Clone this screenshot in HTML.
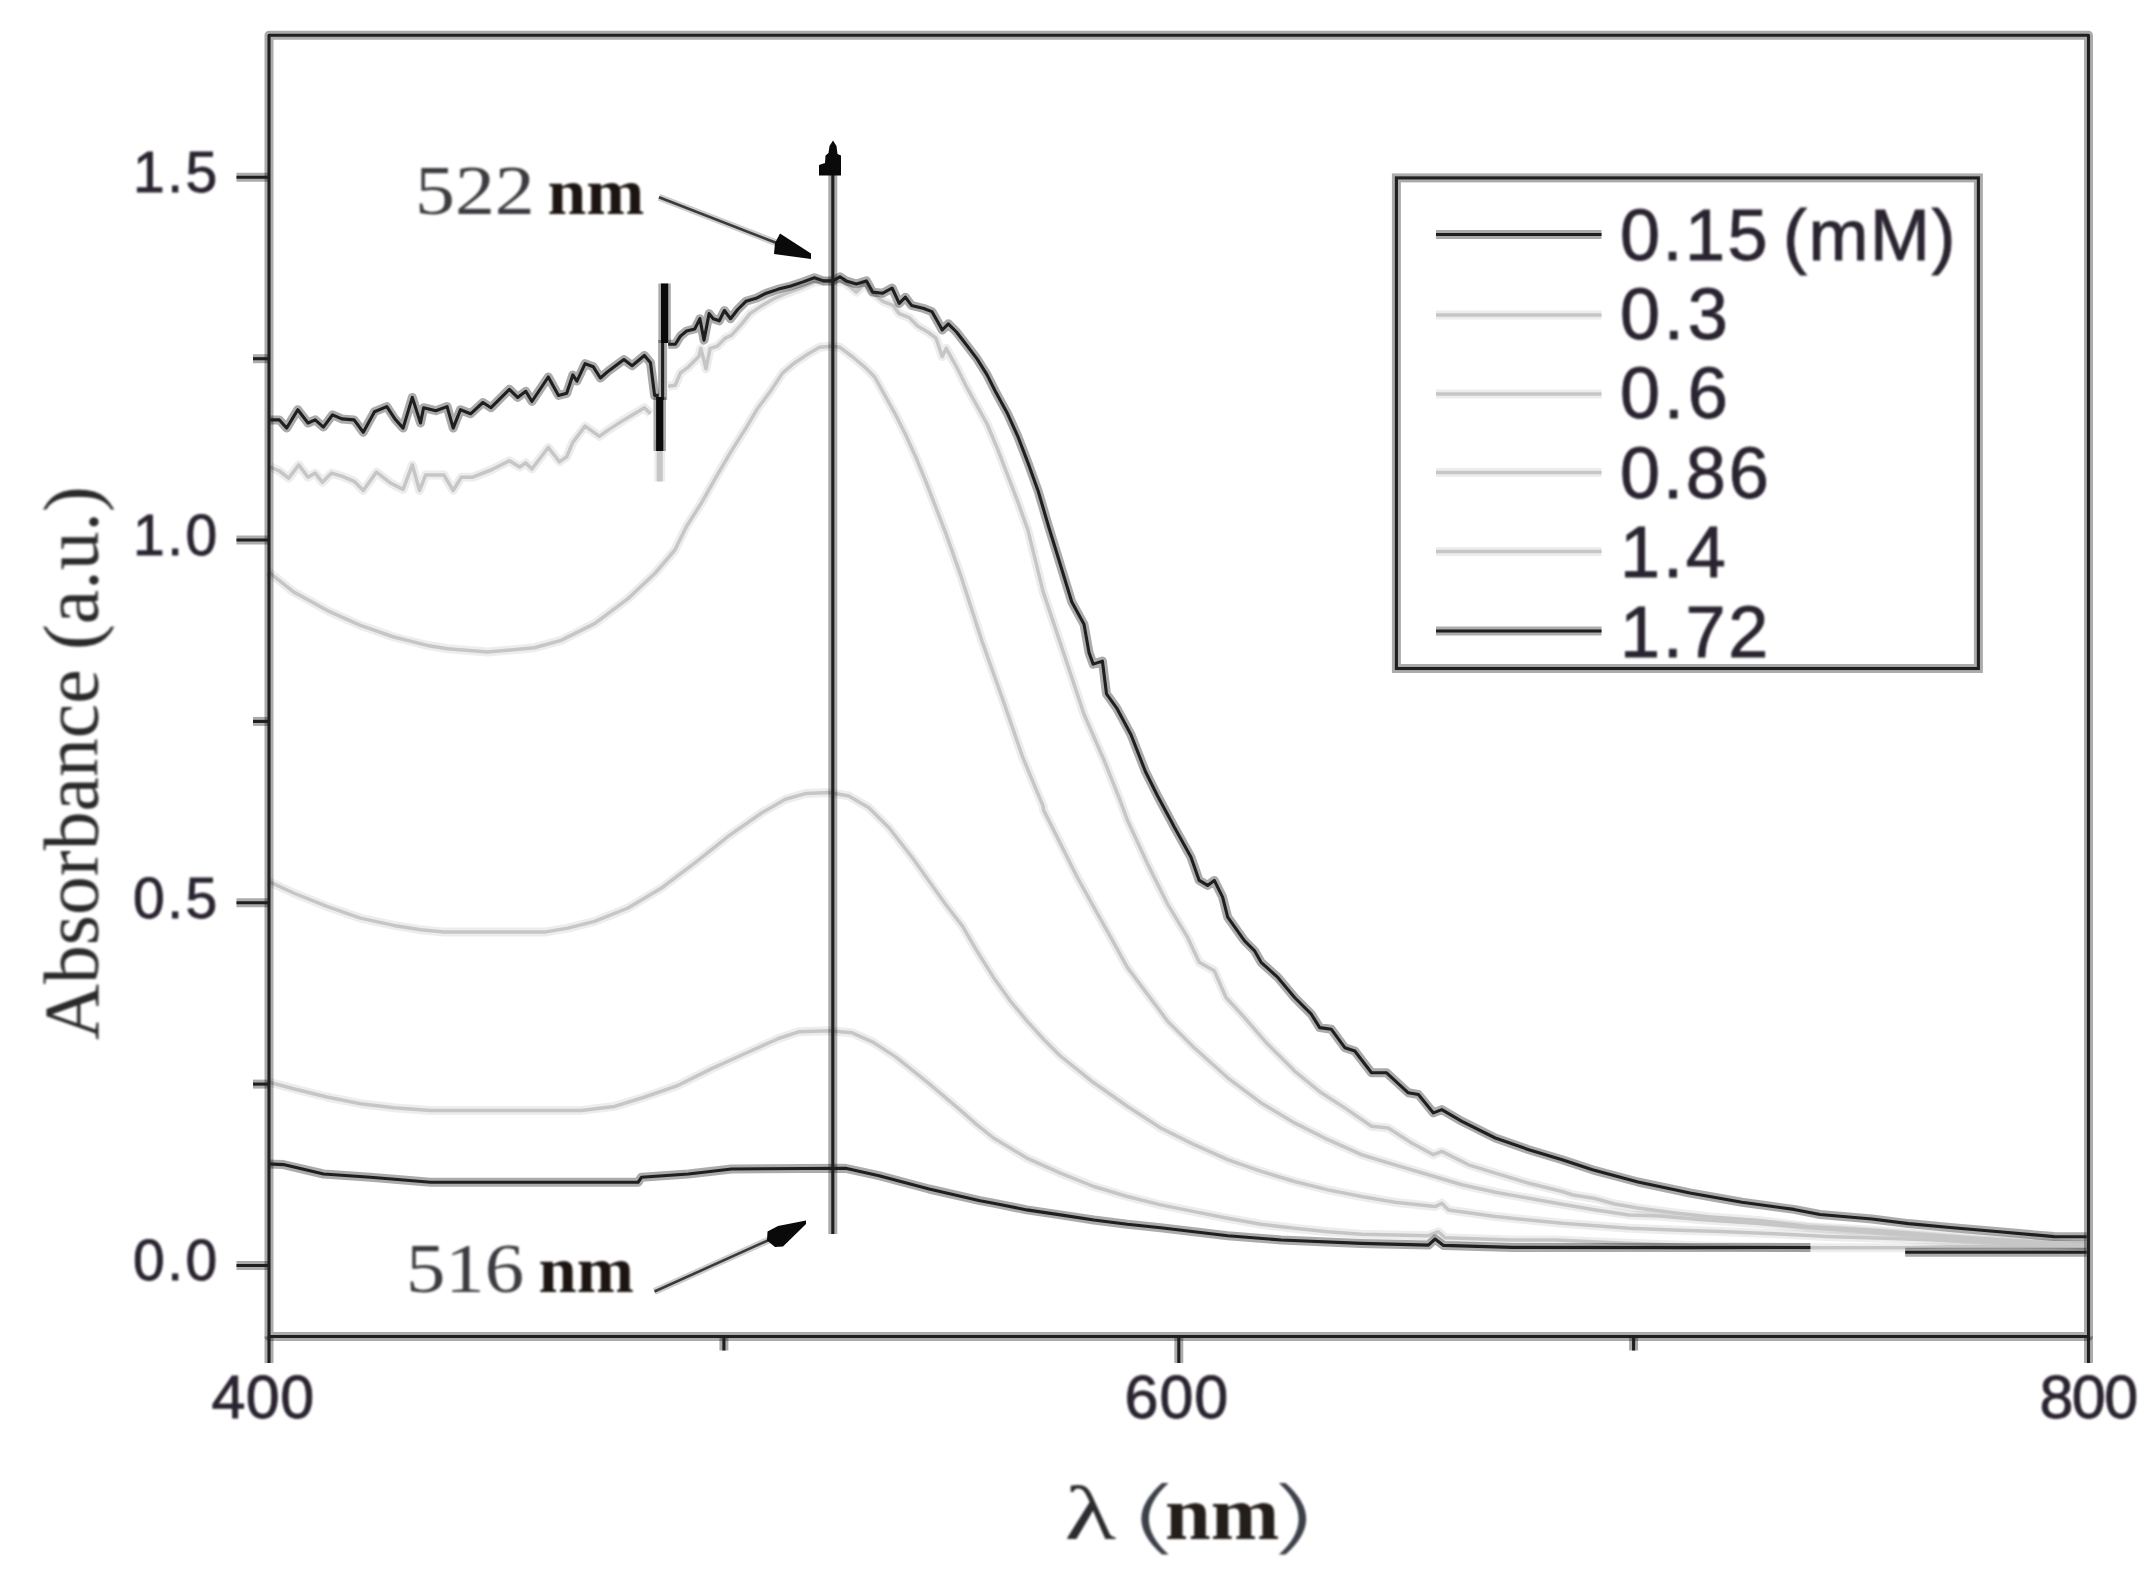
<!DOCTYPE html>
<html lang="en"><head><meta charset="utf-8"><title>UV-Vis absorbance spectra</title>
<style>html,body{margin:0;padding:0;background:#fff}body{width:2152px;height:1570px;overflow:hidden}svg{display:block}.sans{font-family:"Liberation Sans",Arial,Helvetica,sans-serif}.serif{font-family:"Liberation Serif","Times New Roman",Times,serif}.thin{font-family:"DejaVu Sans","Liberation Sans",sans-serif;font-weight:200}</style></head><body>
<svg width="2152" height="1570" viewBox="0 0 2152 1570">
<defs><filter id="soft" x="-2%" y="-2%" width="104%" height="104%" color-interpolation-filters="sRGB"><feGaussianBlur stdDeviation="0.8"/></filter></defs>
<rect width="2152" height="1570" fill="#ffffff"/>
<g fill="none" stroke-linejoin="round" stroke-linecap="butt" stroke="#000" stroke-opacity="0.07" stroke-width="9.0"><path d="M268.4,1082.0 L293.5,1088.7 L326.9,1097.0 L360.4,1103.7 L393.8,1107.7 L430.6,1110.4 L494.2,1110.4 L581.2,1110.4 L614.6,1106.4 L644.8,1097.0 L678.2,1085.3 L711.7,1068.6 L745.1,1053.5 L778.6,1038.5 L798.7,1031.8 L828.8,1030.8 L852.2,1032.8 L872.3,1041.8 L895.7,1056.9 L929.1,1083.6 L962.6,1112.1 L976.7,1124.6 L993.5,1138.0 L1010.2,1148.0 L1026.9,1158.1 L1060.4,1173.1 L1093.8,1186.5 L1127.3,1196.5 L1160.7,1204.9 L1194.2,1211.6 L1227.7,1218.3 L1261.1,1224.3 L1294.6,1228.3 L1328.0,1231.7 L1361.5,1234.3 L1428.4,1235.7 L1438.4,1231.7 L1445.1,1237.7 L1512.0,1240.0 L1555.5,1240.0 L1620.0,1243.0 L1700.0,1246.0 L1810.0,1247.7 L1905.0,1247.7 L1950.0,1246.8 L2086.5,1246.3"/><path d="M268.4,881.3 L293.5,893.0 L326.9,906.4 L360.4,918.1 L393.8,925.4 L420.6,929.8 L444.0,932.1 L494.2,932.1 L544.4,932.1 L567.8,928.1 L594.6,921.4 L628.0,908.0 L661.5,888.0 L694.9,862.9 L728.4,836.1 L761.9,812.7 L785.3,799.3 L805.4,793.6 L828.8,792.6 L848.8,795.9 L868.9,807.7 L889.0,827.7 L912.4,857.8 L929.1,881.3 L945.9,904.7 L962.6,926.4 L976.7,950.6 L993.5,977.4 L1010.2,1000.8 L1026.9,1020.9 L1043.6,1039.3 L1060.4,1056.0 L1077.1,1069.4 L1093.8,1082.8 L1110.6,1094.5 L1127.3,1106.2 L1160.7,1128.0 L1194.2,1144.7 L1227.7,1159.7 L1261.1,1171.4 L1294.6,1181.5 L1328.0,1189.9 L1361.5,1196.5 L1394.9,1202.2 L1435.1,1206.6 L1441.8,1203.2 L1448.5,1209.9 L1495.3,1216.6 L1562.2,1223.3 L1629.1,1228.3 L1680.0,1230.2 L1720.0,1231.6 L1780.0,1234.0 L1827.0,1236.5 L1900.0,1238.8 L1980.0,1241.8 L2040.0,1244.5 L2086.5,1246.0"/><path d="M268.4,571.8 L293.5,591.9 L326.9,610.3 L360.4,625.3 L393.8,637.0 L427.3,645.4 L447.4,648.7 L487.5,652.1 L534.3,647.7 L561.1,640.4 L594.6,623.6 L628.0,598.6 L654.8,573.5 L674.9,550.0 L686.6,526.2 L700.9,503.8 L717.2,475.1 L731.6,450.6 L745.9,428.1 L758.1,407.7 L770.4,391.3 L782.7,372.9 L794.9,362.7 L807.2,354.5 L819.5,347.3 L831.7,346.3 L839.9,347.3 L852.2,356.5 L864.5,366.8 L874.7,377.0 L884.9,395.4 L895.1,413.8 L905.4,434.2 L915.6,456.7 L925.8,481.3 L936.0,507.8 L946.2,534.4 L961.3,577.2 L981.8,640.6 L1002.2,697.9 L1022.7,757.2 L1043.1,806.2 L1043.6,810.1 L1060.4,843.6 L1077.1,877.0 L1093.8,907.1 L1110.6,937.2 L1127.3,967.4 L1147.4,994.1 L1167.4,1020.9 L1194.2,1047.7 L1227.7,1077.8 L1261.1,1102.9 L1294.6,1122.9 L1328.0,1139.7 L1361.5,1154.7 L1394.9,1164.8 L1428.4,1174.8 L1461.9,1184.8 L1495.3,1192.2 L1528.8,1198.2 L1562.2,1204.2 L1595.7,1209.9 L1629.1,1214.9 L1660.0,1216.0 L1700.0,1219.5 L1760.0,1223.5 L1820.0,1228.5 L1900.0,1234.0 L1970.0,1239.5 L2040.0,1243.5 L2086.5,1245.5"/><path d="M270.2,467.0 L279.4,471.0 L288.6,478.2 L298.8,464.9 L308.0,477.2 L315.2,473.1 L322.4,482.3 L331.6,473.1 L341.8,476.2 L354.1,481.3 L363.3,490.5 L376.5,472.1 L390.9,483.3 L403.1,489.4 L412.3,464.9 L419.5,490.5 L425.6,475.1 L444.0,475.1 L453.2,490.5 L461.4,477.2 L472.6,477.2 L491.0,470.0 L509.4,460.8 L519.7,467.0 L525.8,462.9 L531.9,469.0 L548.3,447.5 L559.5,461.8 L566.7,456.7 L572.8,442.4 L585.1,426.1 L599.4,436.3 L609.6,429.1 L623.9,419.9 L644.4,407.7 L650.5,413.8"/><path d="M668.2,386.2 L675.3,385.2 L680.4,372.9 L688.6,366.8 L698.8,356.5 L700.9,348.4 L706.0,368.8 L710.1,348.4 L717.2,346.3 L725.4,338.1 L731.6,335.1 L741.8,323.8 L750.0,313.6 L762.2,305.4 L774.5,298.3 L786.8,293.2 L803.1,287.0 L815.4,281.9 L829.7,280.9 L844.0,281.9 L856.3,292.1 L864.5,284.0 L872.6,293.2 L882.9,301.3 L893.1,305.4 L899.2,313.6 L909.4,317.7 L917.6,325.9 L927.8,332.0 L936.0,338.1 L942.2,356.5 L946.2,348.4 L956.5,366.8 L966.7,387.2 L976.9,405.6 L987.1,424.0 L997.4,448.6 L1007.6,475.1 L1017.8,501.7 L1028.0,530.3 L1043.1,591.6 L1063.6,652.9 L1084.0,714.2 L1104.5,761.3 L1120.8,802.2 L1127.3,820.1 L1147.4,863.6 L1167.4,903.8 L1187.5,937.2 L1199.2,962.3 L1214.3,970.7 L1226.0,997.5 L1244.4,1017.5 L1267.8,1044.3 L1294.6,1071.1 L1321.3,1092.8 L1344.8,1107.9 L1371.5,1126.3 L1388.3,1128.0 L1411.7,1143.0 L1433.4,1154.7 L1441.8,1151.4 L1468.6,1164.8 L1495.3,1173.1 L1528.8,1183.2 L1562.2,1191.5 L1573.0,1195.0 L1595.0,1198.5 L1614.6,1204.0 L1638.0,1208.0 L1673.0,1212.7 L1711.0,1217.0 L1759.0,1220.5 L1807.0,1226.4 L1870.0,1230.0 L1920.0,1234.0 L1980.0,1238.5 L2040.0,1242.5 L2086.5,1245.0"/><path d="M1436,315 L1601.5,315"/><path d="M1436,394 L1601.5,394"/><path d="M1436,472.5 L1601.5,472.5"/><path d="M1436,551.5 L1601.5,551.5"/></g>
<path d="M659.7,440 L659.7,481.5" fill="none" stroke="#000" stroke-opacity="0.07" stroke-width="11"/>
<g fill="none" stroke-linejoin="round" stroke-linecap="butt" stroke="#c6c6c6" stroke-width="3.5"><path d="M268.4,1082.0 L293.5,1088.7 L326.9,1097.0 L360.4,1103.7 L393.8,1107.7 L430.6,1110.4 L494.2,1110.4 L581.2,1110.4 L614.6,1106.4 L644.8,1097.0 L678.2,1085.3 L711.7,1068.6 L745.1,1053.5 L778.6,1038.5 L798.7,1031.8 L828.8,1030.8 L852.2,1032.8 L872.3,1041.8 L895.7,1056.9 L929.1,1083.6 L962.6,1112.1 L976.7,1124.6 L993.5,1138.0 L1010.2,1148.0 L1026.9,1158.1 L1060.4,1173.1 L1093.8,1186.5 L1127.3,1196.5 L1160.7,1204.9 L1194.2,1211.6 L1227.7,1218.3 L1261.1,1224.3 L1294.6,1228.3 L1328.0,1231.7 L1361.5,1234.3 L1428.4,1235.7 L1438.4,1231.7 L1445.1,1237.7 L1512.0,1240.0 L1555.5,1240.0 L1620.0,1243.0 L1700.0,1246.0 L1810.0,1247.7 L1905.0,1247.7 L1950.0,1246.8 L2086.5,1246.3"/><path d="M268.4,881.3 L293.5,893.0 L326.9,906.4 L360.4,918.1 L393.8,925.4 L420.6,929.8 L444.0,932.1 L494.2,932.1 L544.4,932.1 L567.8,928.1 L594.6,921.4 L628.0,908.0 L661.5,888.0 L694.9,862.9 L728.4,836.1 L761.9,812.7 L785.3,799.3 L805.4,793.6 L828.8,792.6 L848.8,795.9 L868.9,807.7 L889.0,827.7 L912.4,857.8 L929.1,881.3 L945.9,904.7 L962.6,926.4 L976.7,950.6 L993.5,977.4 L1010.2,1000.8 L1026.9,1020.9 L1043.6,1039.3 L1060.4,1056.0 L1077.1,1069.4 L1093.8,1082.8 L1110.6,1094.5 L1127.3,1106.2 L1160.7,1128.0 L1194.2,1144.7 L1227.7,1159.7 L1261.1,1171.4 L1294.6,1181.5 L1328.0,1189.9 L1361.5,1196.5 L1394.9,1202.2 L1435.1,1206.6 L1441.8,1203.2 L1448.5,1209.9 L1495.3,1216.6 L1562.2,1223.3 L1629.1,1228.3 L1680.0,1230.2 L1720.0,1231.6 L1780.0,1234.0 L1827.0,1236.5 L1900.0,1238.8 L1980.0,1241.8 L2040.0,1244.5 L2086.5,1246.0"/><path d="M268.4,571.8 L293.5,591.9 L326.9,610.3 L360.4,625.3 L393.8,637.0 L427.3,645.4 L447.4,648.7 L487.5,652.1 L534.3,647.7 L561.1,640.4 L594.6,623.6 L628.0,598.6 L654.8,573.5 L674.9,550.0 L686.6,526.2 L700.9,503.8 L717.2,475.1 L731.6,450.6 L745.9,428.1 L758.1,407.7 L770.4,391.3 L782.7,372.9 L794.9,362.7 L807.2,354.5 L819.5,347.3 L831.7,346.3 L839.9,347.3 L852.2,356.5 L864.5,366.8 L874.7,377.0 L884.9,395.4 L895.1,413.8 L905.4,434.2 L915.6,456.7 L925.8,481.3 L936.0,507.8 L946.2,534.4 L961.3,577.2 L981.8,640.6 L1002.2,697.9 L1022.7,757.2 L1043.1,806.2 L1043.6,810.1 L1060.4,843.6 L1077.1,877.0 L1093.8,907.1 L1110.6,937.2 L1127.3,967.4 L1147.4,994.1 L1167.4,1020.9 L1194.2,1047.7 L1227.7,1077.8 L1261.1,1102.9 L1294.6,1122.9 L1328.0,1139.7 L1361.5,1154.7 L1394.9,1164.8 L1428.4,1174.8 L1461.9,1184.8 L1495.3,1192.2 L1528.8,1198.2 L1562.2,1204.2 L1595.7,1209.9 L1629.1,1214.9 L1660.0,1216.0 L1700.0,1219.5 L1760.0,1223.5 L1820.0,1228.5 L1900.0,1234.0 L1970.0,1239.5 L2040.0,1243.5 L2086.5,1245.5"/><path d="M270.2,467.0 L279.4,471.0 L288.6,478.2 L298.8,464.9 L308.0,477.2 L315.2,473.1 L322.4,482.3 L331.6,473.1 L341.8,476.2 L354.1,481.3 L363.3,490.5 L376.5,472.1 L390.9,483.3 L403.1,489.4 L412.3,464.9 L419.5,490.5 L425.6,475.1 L444.0,475.1 L453.2,490.5 L461.4,477.2 L472.6,477.2 L491.0,470.0 L509.4,460.8 L519.7,467.0 L525.8,462.9 L531.9,469.0 L548.3,447.5 L559.5,461.8 L566.7,456.7 L572.8,442.4 L585.1,426.1 L599.4,436.3 L609.6,429.1 L623.9,419.9 L644.4,407.7 L650.5,413.8"/><path d="M668.2,386.2 L675.3,385.2 L680.4,372.9 L688.6,366.8 L698.8,356.5 L700.9,348.4 L706.0,368.8 L710.1,348.4 L717.2,346.3 L725.4,338.1 L731.6,335.1 L741.8,323.8 L750.0,313.6 L762.2,305.4 L774.5,298.3 L786.8,293.2 L803.1,287.0 L815.4,281.9 L829.7,280.9 L844.0,281.9 L856.3,292.1 L864.5,284.0 L872.6,293.2 L882.9,301.3 L893.1,305.4 L899.2,313.6 L909.4,317.7 L917.6,325.9 L927.8,332.0 L936.0,338.1 L942.2,356.5 L946.2,348.4 L956.5,366.8 L966.7,387.2 L976.9,405.6 L987.1,424.0 L997.4,448.6 L1007.6,475.1 L1017.8,501.7 L1028.0,530.3 L1043.1,591.6 L1063.6,652.9 L1084.0,714.2 L1104.5,761.3 L1120.8,802.2 L1127.3,820.1 L1147.4,863.6 L1167.4,903.8 L1187.5,937.2 L1199.2,962.3 L1214.3,970.7 L1226.0,997.5 L1244.4,1017.5 L1267.8,1044.3 L1294.6,1071.1 L1321.3,1092.8 L1344.8,1107.9 L1371.5,1126.3 L1388.3,1128.0 L1411.7,1143.0 L1433.4,1154.7 L1441.8,1151.4 L1468.6,1164.8 L1495.3,1173.1 L1528.8,1183.2 L1562.2,1191.5 L1573.0,1195.0 L1595.0,1198.5 L1614.6,1204.0 L1638.0,1208.0 L1673.0,1212.7 L1711.0,1217.0 L1759.0,1220.5 L1807.0,1226.4 L1870.0,1230.0 L1920.0,1234.0 L1980.0,1238.5 L2040.0,1242.5 L2086.5,1245.0"/><path d="M1436,315 L1601.5,315"/><path d="M1436,394 L1601.5,394"/><path d="M1436,472.5 L1601.5,472.5"/><path d="M1436,551.5 L1601.5,551.5"/></g>
<path d="M659.7,440 L659.7,481.5" fill="none" stroke="#c6c6c6" stroke-width="6"/>
<rect x="1396.4" y="177.9" width="582" height="490.6" fill="none" stroke="#000" stroke-opacity="0.33" stroke-width="9.0"/>
<g fill="none" stroke-linejoin="round" stroke-linecap="butt" stroke="#000" stroke-opacity="0.33" stroke-width="9.0"><path d="M268.4,1163.9 L283.4,1164.6 L323.6,1174.0 L370.4,1177.3 L430.6,1182.3 L638.1,1182.3 L641.4,1177.3 L688.3,1174.0 L731.7,1169.0 L845.5,1168.3 L879.0,1175.7 L929.1,1189.0 L980.0,1200.7 L993.5,1203.2 L1026.9,1209.9 L1060.4,1214.9 L1093.8,1220.0 L1127.3,1224.3 L1160.7,1227.7 L1194.2,1231.7 L1227.7,1235.7 L1281.2,1240.0 L1361.5,1243.4 L1428.4,1245.1 L1435.1,1239.0 L1443.5,1245.4 L1512.0,1247.4 L1680.0,1247.6 L1810.4,1247.5"/><path d="M1905.2,1252.3 L2086.7,1252.3"/><path d="M270.2,419.9 L279.4,419.9 L286.6,428.1 L297.8,409.7 L308.0,423.0 L315.2,419.9 L323.4,427.1 L332.6,414.8 L341.8,418.9 L354.1,419.9 L363.3,432.2 L374.5,411.7 L386.8,406.6 L394.9,418.9 L403.1,428.1 L412.3,397.4 L420.5,423.0 L423.6,407.7 L435.8,410.7 L447.1,406.6 L453.2,428.1 L460.4,409.7 L470.6,413.8 L482.9,402.5 L491.0,407.7 L509.4,389.3 L517.6,397.4 L525.8,391.3 L531.9,401.5 L548.3,377.0 L558.5,395.4 L566.7,393.3 L572.8,374.9 L576.9,381.1 L585.1,363.7 L593.3,366.8 L600.4,378.0 L608.6,370.9 L623.9,359.6 L632.1,365.7 L644.4,355.5 L650.5,362.7 L654.6,395.4 L658.7,395.4"/><path d="M668.2,344.3 L675.3,344.3 L680.4,336.1 L686.6,331.0 L694.8,328.9 L699.9,318.7 L704.0,340.2 L709.1,313.6 L713.2,318.7 L719.3,320.8 L724.4,310.5 L730.5,318.7 L737.7,309.5 L745.9,301.3 L756.1,298.3 L766.3,293.2 L778.6,289.1 L790.9,286.0 L803.1,281.9 L814.4,277.8 L823.6,280.9 L832.8,280.9 L839.9,276.8 L846.1,280.9 L856.3,284.0 L866.5,280.9 L872.6,292.1 L882.9,293.2 L892.1,288.0 L899.2,303.4 L905.4,297.2 L911.5,305.4 L923.8,308.5 L931.9,311.6 L940.1,325.9 L942.2,330.0 L948.3,323.8 L956.5,332.0 L966.7,345.3 L976.9,358.6 L987.1,374.9 L995.3,391.3 L1007.6,413.8 L1017.8,436.3 L1028.0,462.9 L1038.3,491.5 L1048.5,526.2 L1056.7,552.8 L1071.7,601.8 L1084.0,624.3 L1089.1,652.9 L1093.2,664.1 L1102.4,661.1 L1106.5,693.8 L1116.7,708.1 L1131.0,734.7 L1145.4,771.5 L1157.6,796.0 L1171.9,822.6 L1174.1,826.8 L1190.9,857.0 L1199.2,880.4 L1207.6,885.4 L1214.3,880.4 L1222.6,897.1 L1227.7,917.2 L1244.4,940.6 L1254.4,950.6 L1261.1,962.3 L1277.8,977.4 L1294.6,997.5 L1311.3,1014.2 L1319.7,1027.6 L1331.4,1029.3 L1344.8,1047.7 L1354.8,1051.0 L1371.5,1072.8 L1386.6,1072.8 L1408.3,1092.8 L1418.4,1094.5 L1433.4,1112.9 L1441.8,1109.6 L1461.9,1121.3 L1495.3,1138.0 L1528.8,1149.7 L1562.2,1159.7 L1592.5,1169.8 L1638.0,1182.0 L1690.0,1193.0 L1742.0,1202.3 L1794.0,1209.4 L1820.0,1214.5 L1872.0,1219.0 L1908.5,1223.6 L1950.0,1227.5 L2002.0,1232.0 L2054.0,1236.6 L2086.7,1236.8"/><path d="M662.6,340 L662.6,400"/><path d="M269.0,35.3 H2088.5 V1336.5 H269.0 Z"/><path d="M236.5,1265.5 L269.0,1265.5"/><path d="M236.5,902.8 L269.0,902.8"/><path d="M236.5,540.0 L269.0,540.0"/><path d="M236.5,177.3 L269.0,177.3"/><path d="M253,1084.1 L269.0,1084.1"/><path d="M253,721.4 L269.0,721.4"/><path d="M253,358.7 L269.0,358.7"/><path d="M269.0,1336.5 L269.0,1363"/><path d="M1178.8,1336.5 L1178.8,1363"/><path d="M2088.5,1336.5 L2088.5,1363"/><path d="M723.9,1336.5 L723.9,1350.5"/><path d="M1633.6,1336.5 L1633.6,1350.5"/><path d="M832.8,1234 L832.8,172"/><path d="M1436,234.5 L1601.5,234.5"/><path d="M1436,631 L1601.5,631"/></g>
<path d="M664.6,283.5 L664.6,343 M659.7,397 L659.7,451" fill="none" stroke="#000" stroke-opacity="0.33" stroke-width="12.5"/>
<rect x="1396.4" y="177.9" width="582" height="490.6" fill="none" stroke="#1f1f1f" stroke-width="3.1"/>
<g fill="none" stroke-linejoin="round" stroke-linecap="butt" stroke="#1f1f1f" stroke-width="3.1"><path d="M268.4,1163.9 L283.4,1164.6 L323.6,1174.0 L370.4,1177.3 L430.6,1182.3 L638.1,1182.3 L641.4,1177.3 L688.3,1174.0 L731.7,1169.0 L845.5,1168.3 L879.0,1175.7 L929.1,1189.0 L980.0,1200.7 L993.5,1203.2 L1026.9,1209.9 L1060.4,1214.9 L1093.8,1220.0 L1127.3,1224.3 L1160.7,1227.7 L1194.2,1231.7 L1227.7,1235.7 L1281.2,1240.0 L1361.5,1243.4 L1428.4,1245.1 L1435.1,1239.0 L1443.5,1245.4 L1512.0,1247.4 L1680.0,1247.6 L1810.4,1247.5"/><path d="M1905.2,1252.3 L2086.7,1252.3"/><path d="M270.2,419.9 L279.4,419.9 L286.6,428.1 L297.8,409.7 L308.0,423.0 L315.2,419.9 L323.4,427.1 L332.6,414.8 L341.8,418.9 L354.1,419.9 L363.3,432.2 L374.5,411.7 L386.8,406.6 L394.9,418.9 L403.1,428.1 L412.3,397.4 L420.5,423.0 L423.6,407.7 L435.8,410.7 L447.1,406.6 L453.2,428.1 L460.4,409.7 L470.6,413.8 L482.9,402.5 L491.0,407.7 L509.4,389.3 L517.6,397.4 L525.8,391.3 L531.9,401.5 L548.3,377.0 L558.5,395.4 L566.7,393.3 L572.8,374.9 L576.9,381.1 L585.1,363.7 L593.3,366.8 L600.4,378.0 L608.6,370.9 L623.9,359.6 L632.1,365.7 L644.4,355.5 L650.5,362.7 L654.6,395.4 L658.7,395.4"/><path d="M668.2,344.3 L675.3,344.3 L680.4,336.1 L686.6,331.0 L694.8,328.9 L699.9,318.7 L704.0,340.2 L709.1,313.6 L713.2,318.7 L719.3,320.8 L724.4,310.5 L730.5,318.7 L737.7,309.5 L745.9,301.3 L756.1,298.3 L766.3,293.2 L778.6,289.1 L790.9,286.0 L803.1,281.9 L814.4,277.8 L823.6,280.9 L832.8,280.9 L839.9,276.8 L846.1,280.9 L856.3,284.0 L866.5,280.9 L872.6,292.1 L882.9,293.2 L892.1,288.0 L899.2,303.4 L905.4,297.2 L911.5,305.4 L923.8,308.5 L931.9,311.6 L940.1,325.9 L942.2,330.0 L948.3,323.8 L956.5,332.0 L966.7,345.3 L976.9,358.6 L987.1,374.9 L995.3,391.3 L1007.6,413.8 L1017.8,436.3 L1028.0,462.9 L1038.3,491.5 L1048.5,526.2 L1056.7,552.8 L1071.7,601.8 L1084.0,624.3 L1089.1,652.9 L1093.2,664.1 L1102.4,661.1 L1106.5,693.8 L1116.7,708.1 L1131.0,734.7 L1145.4,771.5 L1157.6,796.0 L1171.9,822.6 L1174.1,826.8 L1190.9,857.0 L1199.2,880.4 L1207.6,885.4 L1214.3,880.4 L1222.6,897.1 L1227.7,917.2 L1244.4,940.6 L1254.4,950.6 L1261.1,962.3 L1277.8,977.4 L1294.6,997.5 L1311.3,1014.2 L1319.7,1027.6 L1331.4,1029.3 L1344.8,1047.7 L1354.8,1051.0 L1371.5,1072.8 L1386.6,1072.8 L1408.3,1092.8 L1418.4,1094.5 L1433.4,1112.9 L1441.8,1109.6 L1461.9,1121.3 L1495.3,1138.0 L1528.8,1149.7 L1562.2,1159.7 L1592.5,1169.8 L1638.0,1182.0 L1690.0,1193.0 L1742.0,1202.3 L1794.0,1209.4 L1820.0,1214.5 L1872.0,1219.0 L1908.5,1223.6 L1950.0,1227.5 L2002.0,1232.0 L2054.0,1236.6 L2086.7,1236.8"/><path d="M662.6,340 L662.6,400"/><path d="M269.0,35.3 H2088.5 V1336.5 H269.0 Z"/><path d="M236.5,1265.5 L269.0,1265.5"/><path d="M236.5,902.8 L269.0,902.8"/><path d="M236.5,540.0 L269.0,540.0"/><path d="M236.5,177.3 L269.0,177.3"/><path d="M253,1084.1 L269.0,1084.1"/><path d="M253,721.4 L269.0,721.4"/><path d="M253,358.7 L269.0,358.7"/><path d="M269.0,1336.5 L269.0,1363"/><path d="M1178.8,1336.5 L1178.8,1363"/><path d="M2088.5,1336.5 L2088.5,1363"/><path d="M723.9,1336.5 L723.9,1350.5"/><path d="M1633.6,1336.5 L1633.6,1350.5"/><path d="M832.8,1234 L832.8,172"/><path d="M1436,234.5 L1601.5,234.5"/><path d="M1436,631 L1601.5,631"/></g>
<path d="M664.6,283.5 L664.6,343 M659.7,397 L659.7,451" fill="none" stroke="#0a0a0a" stroke-width="7.2"/>
<polygon points="833,140.5 836.5,146 837.5,154 841,155.5 841,175.5 819,175.5 819,165 825,163 825.5,155.5 828.5,153 829.5,146" fill="#0a0a0a"/>
<line x1="659" y1="197.3" x2="778" y2="243.5" stroke="#000" stroke-opacity="0.2" stroke-width="7"/>
<line x1="659" y1="197.3" x2="778" y2="243.5" stroke="#3a3a3a" stroke-width="2.6"/>
<polygon points="780,233.5 811,253.5 811,259 774,254 775,243" fill="#0a0a0a"/>
<line x1="654.5" y1="1291.5" x2="771" y2="1239" stroke="#000" stroke-opacity="0.2" stroke-width="7"/>
<line x1="654.5" y1="1291.5" x2="771" y2="1239" stroke="#3a3a3a" stroke-width="2.6"/>
<polygon points="806,1220.5 778,1226 767.5,1231.5 767,1240.5 775,1247 783,1246.5 806,1224" fill="#0a0a0a"/>
<g filter="url(#soft)">
<text transform="translate(1620,259.5) scale(1.0,1)" class="sans" font-size="72" fill="#2a2430" letter-spacing="2.5" stroke="#2a2430" stroke-width="0.9">0.15</text>
<text transform="translate(1783,259.5) scale(1.0,1)" class="sans" font-size="72" fill="#2a2430" letter-spacing="1.5" stroke="#2a2430" stroke-width="0.9">(mM)</text>
<text transform="translate(1620,338.9) scale(1.0,1)" class="sans" font-size="72" fill="#2a2430" letter-spacing="3.8" stroke="#2a2430" stroke-width="0.9">0.3</text>
<text transform="translate(1620,418.3) scale(1.0,1)" class="sans" font-size="72" fill="#2a2430" letter-spacing="3.8" stroke="#2a2430" stroke-width="0.9">0.6</text>
<text transform="translate(1620,497.7) scale(1.0,1)" class="sans" font-size="72" fill="#2a2430" letter-spacing="2.9" stroke="#2a2430" stroke-width="0.9">0.86</text>
<text transform="translate(1620,577.1) scale(1.0,1)" class="sans" font-size="72" fill="#2a2430" letter-spacing="2.9" stroke="#2a2430" stroke-width="0.9">1.4</text>
<text transform="translate(1620,656.5) scale(1.0,1)" class="sans" font-size="72" fill="#2a2430" letter-spacing="2.7" stroke="#2a2430" stroke-width="0.9">1.72</text>
<text transform="translate(133,192) scale(1.0,1)" class="sans" font-size="57" fill="#2a2430" letter-spacing="2.5" stroke="#2a2430" stroke-width="0.9">1.5</text>
<text transform="translate(133,554.7) scale(1.0,1)" class="sans" font-size="57" fill="#2a2430" letter-spacing="2.5" stroke="#2a2430" stroke-width="0.9">1.0</text>
<text transform="translate(133,917.5) scale(1.0,1)" class="sans" font-size="57" fill="#2a2430" letter-spacing="2.5" stroke="#2a2430" stroke-width="0.9">0.5</text>
<text transform="translate(133,1280) scale(1.0,1)" class="sans" font-size="57" fill="#2a2430" letter-spacing="2.5" stroke="#2a2430" stroke-width="0.9">0.0</text>
<text transform="translate(211.5,1417.5) scale(1.0,1)" class="sans" font-size="61" fill="#2a2430" letter-spacing="0.4" stroke="#2a2430" stroke-width="0.9">400</text>
<text transform="translate(1124.5,1417.5) scale(1.0,1)" class="sans" font-size="61" fill="#2a2430" letter-spacing="1.0" stroke="#2a2430" stroke-width="0.9">600</text>
<text transform="translate(2039.5,1417.5) scale(1.0,1)" class="sans" font-size="61" fill="#2a2430" letter-spacing="-1.6" stroke="#2a2430" stroke-width="0.9">800</text>
<text transform="translate(1064.5,1539) scale(1.4,1)" class="serif" font-size="76" fill="#2c2c30">λ</text>
<text transform="translate(1124.5,1543.5) scale(1.9,1)" class="thin" font-size="81" fill="#3c4048">(</text>
<text transform="translate(1165,1539) scale(1.07,1)" class="serif" font-size="77" fill="#241e1a" font-weight="bold">nm</text>
<text transform="translate(1262,1543.5) scale(1.9,1)" class="thin" font-size="81" fill="#3c4048">)</text>
<text transform="translate(415,213.5) scale(1.14,1)" class="serif" font-size="70" fill="#3c3c40">522</text>
<text transform="translate(547.5,213.5) scale(1.057,1)" class="serif" font-size="66" fill="#1c1410" font-weight="bold">nm</text>
<text transform="translate(406,1291.5) scale(1.125,1)" class="serif" font-size="70" fill="#3c3c40">516</text>
<text transform="translate(538.5,1291.5) scale(1.04,1)" class="serif" font-size="66" fill="#1c1410" font-weight="bold">nm</text>
<text class="serif" transform="translate(97.5,1040) rotate(-90) scale(0.995,1)" font-size="78" fill="#2a2a2a">Absorbance (a.u.)</text>
</g>
</svg></body></html>
